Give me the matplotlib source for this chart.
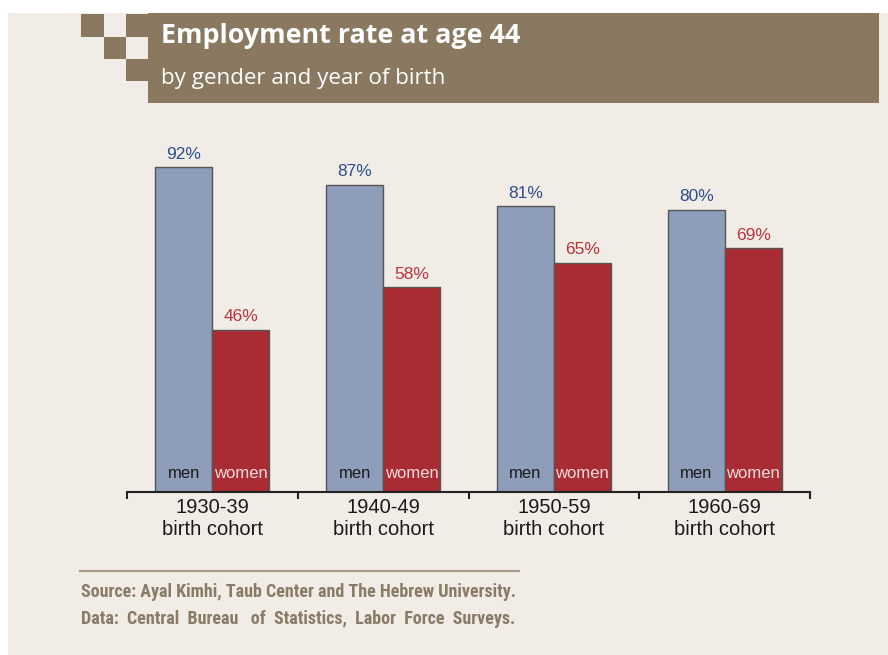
import matplotlib
matplotlib.use("Agg")
import matplotlib.pyplot as plt
import numpy as np
from matplotlib.patches import Rectangle
from matplotlib.lines import Line2D

cohorts = ["1930-39\nbirth cohort", "1940-49\nbirth cohort", "1950-59\nbirth cohort", "1960-69\nbirth cohort"]
men = [92, 87, 81, 80]
women = [46, 58, 65, 69]
title = "Employment rate at age 44"
subtitle = "by gender and year of birth"
source1 = "Source: Ayal Kimhi, Taub Center and The Hebrew University."
source2 = "Data: Central Bureau of Statistics, Labor Force Surveys."

W, H = 888, 655
BEIGE = "#f1ece6"
BROWN = "#8a7960"
MEN_C = "#8e9db9"
WOMEN_C = "#a92b33"
MEN_T = "#2c4f8c"
WOMEN_T = "#b8333a"
SRC_C = "#8a7b66"

fig = plt.figure(figsize=(W/100, H/100), dpi=100)
fig.patch.set_facecolor("white")

def fx(px): return px / W
def fy(py): return 1 - py / H

# background panel
fig.add_artist(Rectangle((fx(8), 0), 1 - fx(8), fy(13), transform=fig.transFigure,
                         facecolor=BEIGE, edgecolor="none", zorder=0))
# header box
fig.add_artist(Rectangle((fx(148), fy(103)), fx(879) - fx(148), fy(13) - fy(103),
                         transform=fig.transFigure, facecolor=BROWN, edgecolor="none", zorder=1))
# decorative squares
for (x0, y0, x1, y1) in [(81, 14, 104, 37), (126, 14, 148, 37), (104, 37, 126, 59), (126, 59, 148, 81)]:
    fig.add_artist(Rectangle((fx(x0), fy(y1)), fx(x1) - fx(x0), fy(y0) - fy(y1),
                             transform=fig.transFigure, facecolor=BROWN, edgecolor="none", zorder=1))

fig.text(fx(161), fy(43), title, color="white", fontsize=19.4, fontweight="bold",
         family=["Open Sans", "DejaVu Sans"], va="baseline", ha="left", zorder=2)
fig.text(fx(161), fy(84), subtitle, color="white", fontsize=16.1,
         family=["Open Sans", "DejaVu Sans"], va="baseline", ha="left", zorder=2)

ax = fig.add_axes([fx(127), fy(492), fx(810) - fx(127), fy(139) - fy(492)])
ax.set_facecolor("none")
x = np.arange(len(cohorts))
bw = 1/3
ax.bar(x - bw/2, men, bw, color=MEN_C, edgecolor="#555555", linewidth=1.0, zorder=2)
ax.bar(x + bw/2, women, bw, color=WOMEN_C, edgecolor="#555555", linewidth=1.0, zorder=2)

for i in range(len(cohorts)):
    ax.annotate(f"{men[i]}%", (x[i] - bw/2, men[i]), xytext=(0, 4), textcoords="offset points",
                ha="center", va="bottom", color=MEN_T, fontsize=12.5, family="Liberation Sans")
    ax.annotate(f"{women[i]}%", (x[i] + bw/2, women[i]), xytext=(0, 4), textcoords="offset points",
                ha="center", va="bottom", color=WOMEN_T, fontsize=12.5, family="Liberation Sans")
    ax.annotate("men", (x[i] - bw/2, 0), xytext=(0, 13.2), textcoords="offset points",
                ha="center", va="center", color="#1a1a1a", fontsize=12, family="Liberation Sans")
    ax.annotate("women", (x[i] + bw/2, 0), xytext=(0, 13.2), textcoords="offset points",
                ha="center", va="center", color="#f3dcdc", fontsize=12, family="Liberation Sans")

ax.set_xlim(-0.5, len(cohorts) - 0.5)
ax.set_ylim(0, 100)
for s in ["top", "right", "left"]:
    ax.spines[s].set_visible(False)
ax.spines["bottom"].set_color("#222222")
ax.spines["bottom"].set_linewidth(1.5)
ax.set_yticks([])
ax.set_xticks(x)
ax.set_xticklabels(cohorts, fontsize=14.5, family="Liberation Sans", color="#1a1a1a", linespacing=1.2)
ax.tick_params(axis="x", which="major", length=0, pad=4)
ax.set_xticks(np.arange(-0.5, len(cohorts), 1.0), minor=True)
ax.tick_params(axis="x", which="minor", length=5, width=1.5, color="#222222", direction="out")

# source rule
fig.add_artist(Line2D([fx(80), fx(519)], [fy(571), fy(571)], transform=fig.transFigure,
                      color="#a99b86", linewidth=1.5))

# source lines: first natural width, second justified to the same width using spaces
fig.canvas.draw()
renderer = fig.canvas.get_renderer()
src_family = ["Roboto Condensed", "Liberation Sans Narrow", "Roboto", "DejaVu Sans"]

def width_of(s, size):
    t = fig.text(0, 0, s, fontsize=size, fontweight="bold", family=src_family)
    w = t.get_window_extent(renderer).width
    t.remove()
    return w

src_size = 10 * (516 - 81) / width_of(source1, 10)
fig.text(fx(81), fy(597), source1, fontsize=src_size, fontweight="bold", family=src_family,
         color=SRC_C, va="baseline", ha="left")

words = source2.split(" ")
space_w = width_of("a" + " " * 10 + "a", src_size) - width_of("aa", src_size)
space_w /= 10
word_w = [width_of(w, src_size) for w in words]
gap = ((516 - 81) - sum(word_w)) / (len(words) - 1)
line = words[0]
target = word_w[0]
used = word_w[0]
for w, ww in zip(words[1:], word_w[1:]):
    target += gap
    n = max(1, int(round((target - used) / space_w)))
    line += " " * n + w
    used += n * space_w
    target += ww
    used += ww
fig.text(fx(81), fy(624), line, fontsize=src_size, fontweight="bold", family=src_family,
         color=SRC_C, va="baseline", ha="left")

fig.savefig("out.png", dpi=100, facecolor=fig.get_facecolor())
